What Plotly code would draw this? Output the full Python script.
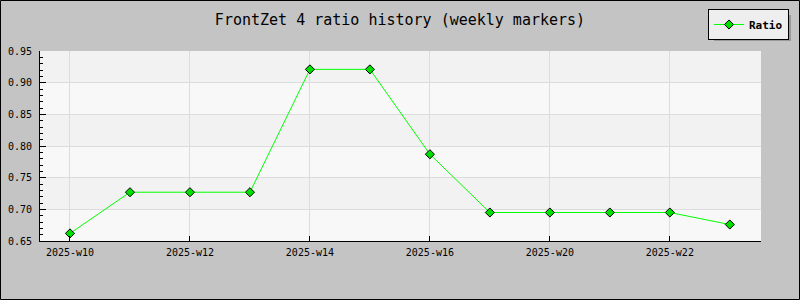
import plotly.graph_objects as go

weeks = ["2025-w10", "2025-w11", "2025-w12", "2025-w13", "2025-w14", "2025-w15",
         "2025-w16", "2025-w18", "2025-w20", "2025-w21", "2025-w22", "2025-w23"]
ratio = [0.662, 0.727, 0.727, 0.727, 0.921, 0.921, 0.787, 0.695, 0.695, 0.695, 0.695, 0.676]
x_tick_labels = ["2025-w10", "2025-w12", "2025-w14", "2025-w16", "2025-w20", "2025-w22"]
y_ticks = [0.65, 0.70, 0.75, 0.80, 0.85, 0.90, 0.95]

MONO = "DejaVu Sans Mono"
L, R, T, B = 40, 39, 51, 59
PW, PH = 800 - L - R, 300 - T - B


def px_x(p):
    return (p - L) / PW


def px_y(p):
    return (300 - B - p) / PH


fig = go.Figure()
fig.add_trace(go.Scatter(
    x=weeks, y=ratio, mode="lines+markers", name="Ratio",
    line=dict(color="#00ff00", width=1),
    marker=dict(symbol="diamond", size=7, color="#00e000",
                line=dict(color="#000000", width=1)),
))

shapes = []
for i in range(len(y_ticks) - 1):
    shapes.append(dict(
        type="rect", xref="paper", yref="y", x0=0, x1=1,
        y0=y_ticks[i], y1=y_ticks[i + 1],
        fillcolor="#f8f8f8" if i % 2 == 0 else "#f2f2f2",
        line=dict(width=0), layer="below"))
# legend shadow
shapes.append(dict(type="rect", xref="paper", yref="paper",
                   x0=px_x(714), x1=px_x(791), y0=px_y(41), y1=px_y(15),
                   fillcolor="#9a9a9a", line=dict(width=0), layer="below"))
# outer border
shapes.append(dict(type="rect", xref="paper", yref="paper",
                   x0=px_x(0.5), x1=px_x(799.5), y0=px_y(299.5), y1=px_y(0.5),
                   fillcolor="rgba(0,0,0,0)", line=dict(color="#000000", width=1)))

fig.update_layout(
    width=800, height=300,
    margin=dict(l=L, r=R, t=T, b=B, autoexpand=False),
    paper_bgcolor="#c4c4c4",
    plot_bgcolor="#f8f8f8",
    shapes=shapes,
    title=dict(text="FrontZet 4 ratio history (weekly markers)",
               x=0.5, xanchor="center", y=1 - 20/300, yanchor="middle",
               font=dict(family=MONO, size=15, color="#000000")),
    showlegend=True,
    legend=dict(xref="container", yref="container",
                x=708/800, y=1 - 9/300, xanchor="left", yanchor="top",
                bgcolor="#eeeeee", bordercolor="#000000", borderwidth=1,
                font=dict(family=MONO, size=11, color="#000000", weight="bold"),
                itemwidth=30, tracegroupgap=0),
    xaxis=dict(
        type="category", range=[-0.5, 11.52], automargin=False,
        tickmode="array", tickvals=x_tick_labels, ticktext=x_tick_labels,
        ticks="inside", ticklen=5, tickcolor="#000000",
        showline=True, linecolor="#000000", linewidth=1,
        showgrid=True, gridcolor="#dcdcdc", gridwidth=1,
        tickfont=dict(family=MONO, size=10, color="#000000"),
        zeroline=False, fixedrange=True, ticklabelstandoff=2,
    ),
    yaxis=dict(
        range=[0.65, 0.95], tickmode="array", tickvals=y_ticks, automargin=False,
        ticktext=[f"{v:.2f}" for v in y_ticks],
        ticks="inside", ticklen=6, tickcolor="#000000",
        minor=dict(dtick=0.01, ticks="inside", ticklen=3, tickcolor="#000000", showgrid=False),
        showline=True, linecolor="#000000", linewidth=1,
        showgrid=True, gridcolor="#dcdcdc", gridwidth=1,
        tickfont=dict(family=MONO, size=10, color="#000000"),
        zeroline=False, fixedrange=True, ticklabelstandoff=5,
    ),
)

fig.write_html("out.html")
